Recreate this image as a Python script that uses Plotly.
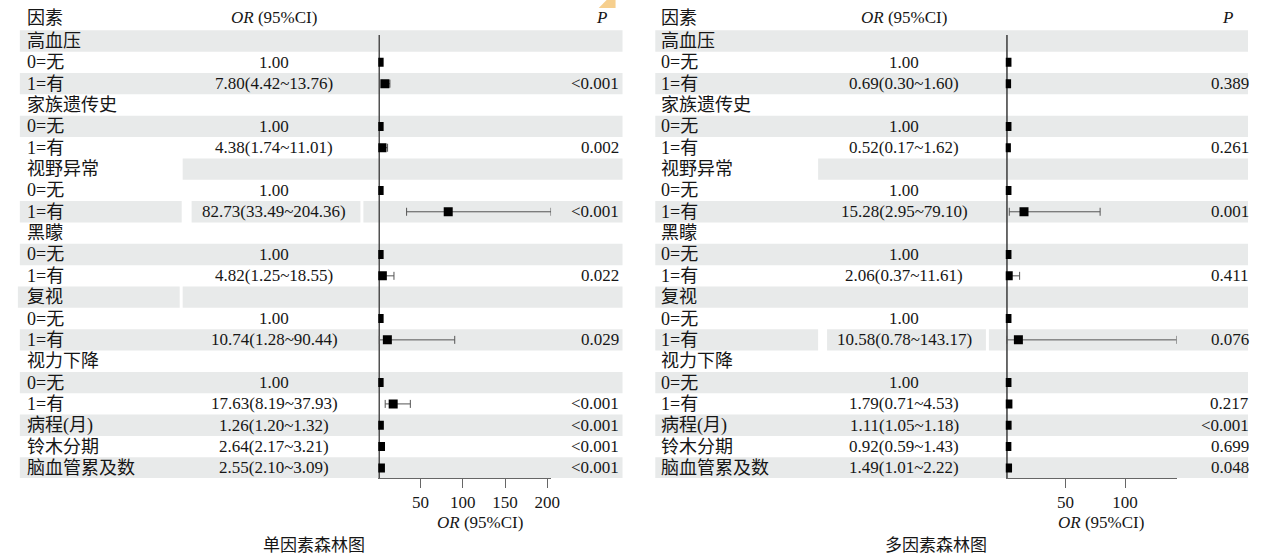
import plotly.graph_objects as go

# ---- data -------------------------------------------------------------
factors = ["高血压", "0=无", "1=有", "家族遗传史", "0=无", "1=有",
           "视野异常", "0=无", "1=有", "黑矇", "0=无", "1=有",
           "复视", "0=无", "1=有", "视力下降", "0=无", "1=有",
           "病程(月)", "铃木分期", "脑血管累及数"]

uni_or = [None, 1.00, 7.80, None, 1.00, 4.38, None, 1.00, 82.73, None, 1.00, 4.82,
          None, 1.00, 10.74, None, 1.00, 17.63, 1.26, 2.64, 2.55]
uni_lo = [None, None, 4.42, None, None, 1.74, None, None, 33.49, None, None, 1.25,
          None, None, 1.28, None, None, 8.19, 1.20, 2.17, 2.10]
uni_hi = [None, None, 13.76, None, None, 11.01, None, None, 204.36, None, None, 18.55,
          None, None, 90.44, None, None, 37.93, 1.32, 3.21, 3.09]
uni_p = ["", "", "<0.001", "", "", "0.002", "", "", "<0.001", "", "", "0.022",
         "", "", "0.029", "", "", "<0.001", "<0.001", "<0.001", "<0.001"]

multi_or = [None, 1.00, 0.69, None, 1.00, 0.52, None, 1.00, 15.28, None, 1.00, 2.06,
            None, 1.00, 10.58, None, 1.00, 1.79, 1.11, 0.92, 1.49]
multi_lo = [None, None, 0.30, None, None, 0.17, None, None, 2.95, None, None, 0.37,
            None, None, 0.78, None, None, 0.71, 1.05, 0.59, 1.01]
multi_hi = [None, None, 1.60, None, None, 1.62, None, None, 79.10, None, None, 11.61,
            None, None, 143.17, None, None, 4.53, 1.18, 1.43, 2.22]
multi_p = ["", "", "0.389", "", "", "0.261", "", "", "0.001", "", "", "0.411",
           "", "", "0.076", "", "", "0.217", "<0.001", "0.699", "0.048"]

uni_ticks = [50, 100, 150, 200]
multi_ticks = [50, 100]

# ---- layout helpers ----------------------------------------------------
W, H = 1261, 558
FONT = "Liberation Serif, 'Noto Sans CJK SC', serif"
TXT = "#161616"
BAND = "#e8eaea"
FS = 17      # numbers
FS_CN = 18   # row labels


def px(x):
    return x / W


def py(y):
    return 1 - y / H


n = len(factors)
fig = go.Figure()
annotations = []
shapes = []


def text(x, y, s, anchor="left", yref="y", size=FS, xref="paper"):
    annotations.append(dict(x=x, y=y, xref=xref, yref=yref, text=s, showarrow=False,
                            xanchor=anchor, yanchor="middle",
                            font=dict(family=FONT, size=size, color=TXT)))


def panel(xa, orv, lo, hi, pv, left, right, label_x, or_x, p_x, p_head_x,
          axis_title_x, caption_x, caption, gaps):
    # alternating row bands, with the few blank cut-outs
    for i in range(0, n, 2):
        segs = gaps.get(i, [(left, right)])
        for a, b in segs:
            shapes.append(dict(type="rect", xref="paper", yref="y",
                               x0=px(a), x1=px(b), y0=i - 0.5, y1=i + 0.5,
                               fillcolor=BAND, line=dict(width=0), layer="below"))
    # reference line at OR = 1
    shapes.append(dict(type="line", xref=xa, yref="y", x0=1, x1=1, y0=-0.28, y1=20.47,
                       line=dict(color="#3a3a3a", width=1.5), layer="below"))

    ref_y = [i for i in range(n) if orv[i] is not None and lo[i] is None]
    est_y = [i for i in range(n) if lo[i] is not None]
    fig.add_trace(go.Scatter(
        x=[orv[i] for i in ref_y], y=ref_y, xaxis=xa, yaxis="y", mode="markers",
        marker=dict(symbol="square", size=9, color="black"),
        hoverinfo="skip", showlegend=False))
    fig.add_trace(go.Scatter(
        x=[orv[i] for i in est_y], y=est_y, xaxis=xa, yaxis="y", mode="markers",
        marker=dict(symbol="square", size=9, color="black"),
        error_x=dict(type="data", symmetric=False,
                     array=[hi[i] - orv[i] for i in est_y],
                     arrayminus=[orv[i] - lo[i] for i in est_y],
                     color="#555555", thickness=1, width=4),
        hoverinfo="skip", showlegend=False))

    # header row
    text(px(label_x), -1.08, "因素", size=FS_CN)
    text(px(or_x), -1.08, "<i>OR</i> (95%CI)", anchor="center")
    text(px(p_head_x), -1.08, "<i>P</i>", anchor="center")

    for i in range(n):
        text(px(label_x), i, factors[i], size=FS_CN)
        if orv[i] is not None:
            if lo[i] is None:
                s = f"{orv[i]:.2f}"
            else:
                s = f"{orv[i]:.2f}({lo[i]:.2f}~{hi[i]:.2f})"
            text(px(or_x), i, s, anchor="center")
        if pv[i]:
            text(px(p_x), i, pv[i], anchor="right")

    text(px(axis_title_x), py(522), "<i>OR</i> (95%CI)", anchor="center", yref="paper")
    text(px(caption_x), py(545), caption, anchor="center", yref="paper")


panel("x", uni_or, uni_lo, uni_hi, uni_p, 20, 627, 25, 276, 625, 606, 483, 316,
      "单因素森林图",
      {6: [(184, 627)], 8: [(20, 183), (193, 363), (366, 627)], 12: [(18, 181), (184, 627)]})
panel("x2", multi_or, multi_lo, multi_hi, multi_p, 660, 1257, 664, 911, 1260, 1236, 1109, 943,
      "多因素森林图",
      {6: [(824, 1257)], 14: [(660, 824), (833, 993), (996, 1257)]})

# small orange mark at the top edge
shapes.append(dict(type="path", xref="paper", yref="paper",
                   path=f"M {px(603)} {py(8)} L {px(620)} {py(8)} L {px(620)} {py(0)} L {px(611)} {py(0)} Z",
                   fillcolor="#f6cf8e", line=dict(width=0), layer="above"))

axis_common = dict(showgrid=False, zeroline=False, showline=True, linecolor="#666666",
                   linewidth=1, ticks="outside", ticklen=9, tickcolor="#666666",
                   tickwidth=1, tickfont=dict(family=FONT, size=FS, color=TXT),
                   anchor="y", fixedrange=True)

fig.update_layout(
    width=W, height=H,
    margin=dict(l=0, r=0, t=0, b=0),
    paper_bgcolor="white", plot_bgcolor="rgba(0,0,0,0)",
    xaxis=dict(domain=[px(381), px(555)], range=[0, 204.36], tickvals=uni_ticks, **axis_common),
    xaxis2=dict(domain=[px(1013), px(1185)], range=[0, 143.17], tickvals=multi_ticks, **axis_common),
    yaxis=dict(domain=[80 / H, 1], range=[20.47, -1.92], visible=False, fixedrange=True),
    annotations=annotations,
    shapes=shapes,
)

fig.write_html("out.html")
